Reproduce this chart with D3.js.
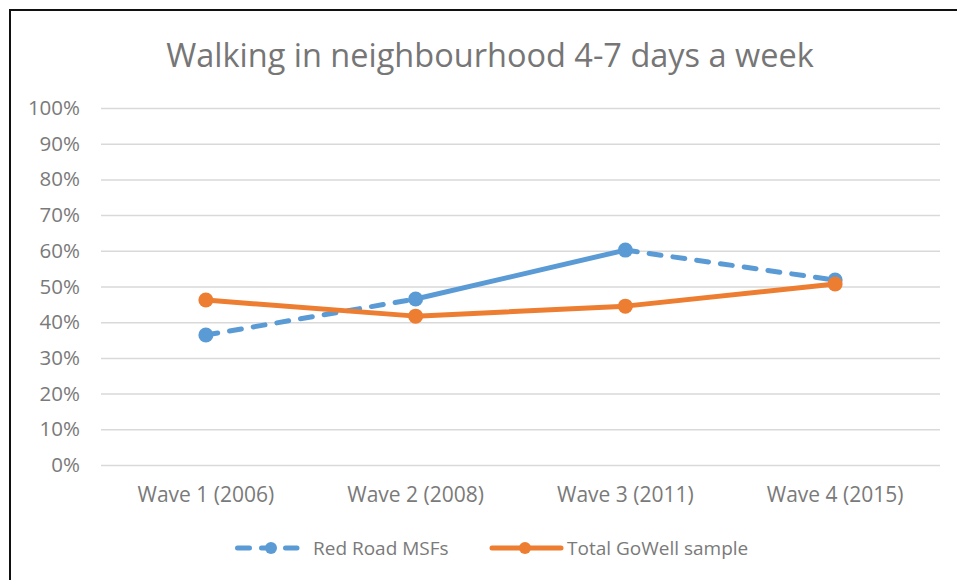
<!DOCTYPE html>
<html>
<head>
<meta charset="utf-8">
<script src="https://cdn.jsdelivr.net/npm/d3@7"></script>
<style>
  body { margin: 0; background: #fff; }
  text { font-family: "Open Sans", sans-serif; fill: #7a7a7a; }
</style>
</head>
<body>
<div id="chart"></div>
<script>
// chart data
var categories = ["Wave 1 (2006)", "Wave 2 (2008)", "Wave 3 (2011)", "Wave 4 (2015)"];
var redRoad = [36.4, 46.5, 60.2, 51.8];
var totalGoWell = [46.2, 41.7, 44.5, 50.7];
var yTicks = [0, 10, 20, 30, 40, 50, 60, 70, 80, 90, 100];
var seriesNames = ["Red Road MSFs", "Total GoWell sample"];

var svgWidth = 957, svgHeight = 580;
var margin = { top: 108, right: 17, bottom: 115, left: 101 };
var chartWidth = svgWidth - margin.left - margin.right;
var chartHeight = svgHeight - margin.top - margin.bottom;

var svg = d3.select("#chart").append("svg")
  .attr("width", svgWidth)
  .attr("height", svgHeight);

// frame (only top and left edges show in the picture)
svg.append("path")
  .attr("d", "M10,580 L10,10 L957,10")
  .attr("fill", "none")
  .attr("stroke", "#111")
  .attr("stroke-width", 2);

// title
svg.append("text")
  .attr("x", 490)
  .attr("y", 67)
  .attr("text-anchor", "middle")
  .style("font-size", "32.5px")
  .style("fill", "#767676")
  .text("Walking in neighbourhood 4-7 days a week");

var chartGroup = svg.append("g")
  .attr("transform", `translate(${margin.left}, ${margin.top})`);

var xScale = d3.scaleBand()
  .domain(categories)
  .range([0, chartWidth]);

var yScale = d3.scaleLinear()
  .domain([0, 100])
  .range([chartHeight, 0]);

// gridlines + y labels
var leftAxis = d3.axisLeft(yScale)
  .tickValues(yTicks)
  .tickSize(-chartWidth)
  .tickPadding(21)
  .tickFormat(d => d + "%");

var yAxisG = chartGroup.append("g").call(leftAxis);
yAxisG.select(".domain").remove();
yAxisG.selectAll("line").attr("stroke", "#d9d9d9").attr("stroke-width", 1.5);
yAxisG.selectAll("text").style("font-size", "20.5px").style("fill", "#7a7a7a")
  .style("font-family", "'Open Sans', sans-serif");

// x labels
var bottomAxis = d3.axisBottom(xScale).tickSize(0).tickPadding(22);
var xAxisG = chartGroup.append("g")
  .attr("transform", `translate(0, ${chartHeight})`)
  .call(bottomAxis);
xAxisG.select(".domain").remove();
xAxisG.selectAll("text").style("font-size", "21px").style("fill", "#7a7a7a")
  .style("font-family", "'Open Sans', sans-serif");

var cx = d => xScale(d) + xScale.bandwidth() / 2;

// orange series - solid
var orangeLine = d3.line()
  .x((d, i) => cx(categories[i]))
  .y(d => yScale(d));

// blue series, dashed on 1-2 and 3-4, solid on 2-3
function blueSegment(i) {
  return d3.line()([[cx(categories[i]), yScale(redRoad[i])],
                    [cx(categories[i + 1]), yScale(redRoad[i + 1])]]);
}
var blueColor = "#5b9bd5", orangeColor = "#ed7d31";

[0, 1, 2].forEach(function(i) {
  chartGroup.append("path")
    .attr("d", blueSegment(i))
    .attr("fill", "none")
    .attr("stroke", blueColor)
    .attr("stroke-width", 5)
    .attr("stroke-linecap", "round")
    .attr("stroke-dasharray", i === 1 ? null : "12,12");
});

chartGroup.selectAll(".blueDot")
  .data(redRoad)
  .enter()
  .append("circle")
  .attr("cx", (d, i) => cx(categories[i]))
  .attr("cy", d => yScale(d))
  .attr("r", 7.5)
  .attr("fill", blueColor);

chartGroup.append("path")
  .datum(totalGoWell)
  .attr("d", orangeLine)
  .attr("fill", "none")
  .attr("stroke", orangeColor)
  .attr("stroke-width", 5)
  .attr("stroke-linecap", "round")
  .attr("stroke-linejoin", "round");

chartGroup.selectAll(".orangeDot")
  .data(totalGoWell)
  .enter()
  .append("circle")
  .attr("cx", (d, i) => cx(categories[i]))
  .attr("cy", d => yScale(d))
  .attr("r", 7.5)
  .attr("fill", orangeColor);

// legend
var legendY = 548;
var legend = svg.append("g");

// blue legend item
legend.append("line")
  .attr("x1", 237.5).attr("x2", 297)
  .attr("y1", legendY).attr("y2", legendY)
  .attr("stroke", blueColor).attr("stroke-width", 5)
  .attr("stroke-linecap", "round")
  .attr("stroke-dasharray", "12,12");
legend.append("circle")
  .attr("cx", 271).attr("cy", legendY).attr("r", 6)
  .attr("fill", blueColor);
legend.append("text")
  .attr("x", 313).attr("y", legendY + 7)
  .style("font-size", "19px")
  .text(seriesNames[0]);

// orange legend item
legend.append("line")
  .attr("x1", 492).attr("x2", 561)
  .attr("y1", legendY).attr("y2", legendY)
  .attr("stroke", orangeColor).attr("stroke-width", 5)
  .attr("stroke-linecap", "round");
legend.append("circle")
  .attr("cx", 525).attr("cy", legendY).attr("r", 6)
  .attr("fill", orangeColor);
legend.append("text")
  .attr("x", 567).attr("y", legendY + 7)
  .style("font-size", "19px")
  .text(seriesNames[1]);
</script>
</body>
</html>
